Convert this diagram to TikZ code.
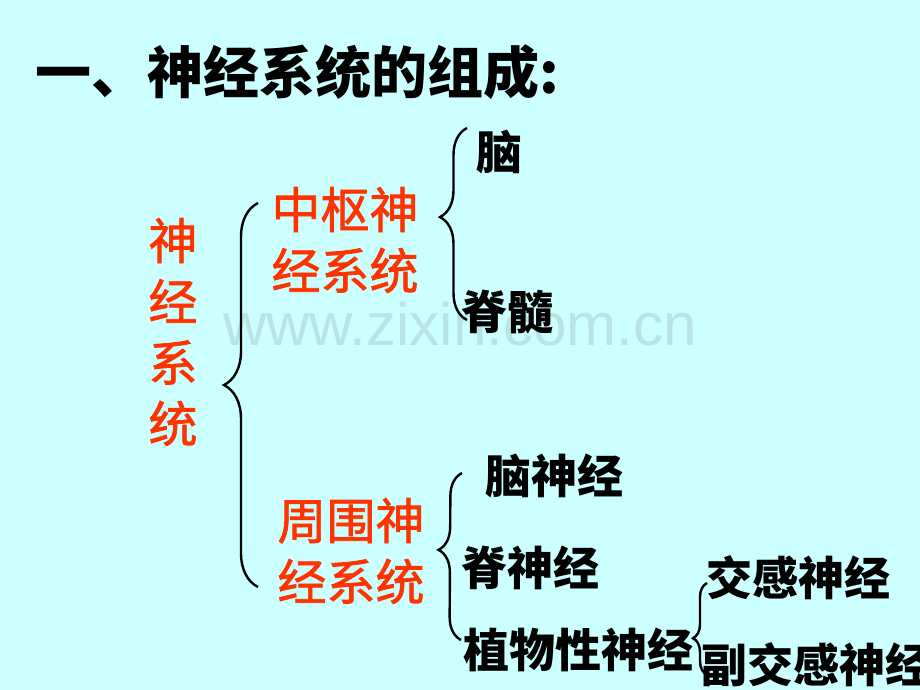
\documentclass[tikz,border=0pt]{standalone}
\usepackage{fontspec}
\setmainfont{Liberation Sans}
\newfontfamily\cjk{Noto Sans CJK SC}
\newfontfamily\cjkred[FakeBold=1.5]{Noto Sans CJK SC}
\usetikzlibrary{decorations.pathreplacing, positioning}
\definecolor{bgcyan}{HTML}{CCFFFF}
\definecolor{nsred}{HTML}{FF3300}
\definecolor{wmgray}{RGB}{184,228,228}

\begin{document}
\begin{tikzpicture}[x=1pt, y=-1pt,
		redtext/.style={text=nsred, font=\cjkred\fontsize{49}{61}\selectfont, align=center, inner sep=0pt},
		blacktext/.style={font=\cjk\bfseries\fontsize{46}{55}\selectfont, anchor=west, inner sep=0pt},
		bracket/.style={decorate, line width=2.4pt}]
		
		\fill[bgcyan] (0,0) rectangle (920,690);
		\useasboundingbox (0,0) rectangle (920,690);
		
		\node[font=\fontsize{60}{60}\selectfont, text=wmgray, anchor=base, inner sep=0pt] (watermark) at (460,345) {www.zixin.com.cn};
		
		% title
		\node[font=\cjk\bfseries\fontsize{56}{60}\selectfont, anchor=west, inner sep=0pt] (title) at (35,72) {一、神经系统的组成:};
		
		% levels
		\node[redtext] (ns) at (173,332) {神\\经\\系\\统};
		\node[redtext] (cns) at (345,240) {中枢神\\经系统};
		\node[redtext] (pns) at (351,551) {周围神\\经系统};
		
		\node[blacktext] (brain) at (476,152) {脑};
		\node[blacktext] (cord) at (461,312) {脊髓};
		\node[blacktext] (cranial) at (485,476) {脑神经};
		\node[blacktext] (spinal) at (461,568) {脊神经};
		\node[blacktext] (auto) at (463,650) {植物性神经};
		\node[blacktext] (symp) at (706,578) {交感神经};
		\node[blacktext] (para) at (701,665) {副交感神经};
		
		% brace ends
		\coordinate (ns-bot) at (258,587);
		\coordinate (ns-top) at (258,203);
		\coordinate (cns-bot) at (467,320);
		\coordinate (cns-top) at (467,128);
		\coordinate (pns-bot) at (461,640);
		\coordinate (pns-top) at (462,473);
		\coordinate (auto-bot) at (707,675);
		\coordinate (auto-top) at (707,583);
		
		\draw[bracket, decoration={brace, amplitude=34pt, aspect=0.526}] (ns-bot) -- (ns-top);
		\draw[bracket, decoration={brace, amplitude=27pt, aspect=0.536}] (cns-bot) -- (cns-top);
		\draw[bracket, decoration={brace, amplitude=23pt, aspect=0.539}] (pns-bot) -- (pns-top);
		\draw[bracket, decoration={brace, amplitude=14pt, aspect=0.40}] (auto-bot) -- (auto-top);
	\end{tikzpicture}
\end{document}
